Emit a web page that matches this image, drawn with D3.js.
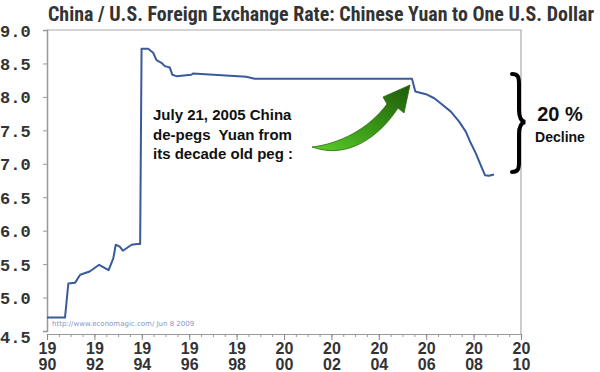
<!DOCTYPE html>
<html>
<head>
<meta charset="utf-8">
<script src="https://cdn.jsdelivr.net/npm/d3@7"></script>
<style>
  body { margin: 0; background: #fff; }
  svg { display: block; }
</style>
</head>
<body>
<svg id="chart" width="600" height="372"></svg>
<script>
// Yuan per US dollar
var years = [1990.0, 1990.76, 1990.9, 1991.18, 1991.4, 1991.8, 1992.2, 1992.6, 1992.8, 1992.9,
  1993.07, 1993.2, 1993.57, 1993.8, 1993.93, 1993.99, 1994.27, 1994.48, 1994.62, 1994.83,
  1994.97, 1995.18, 1995.29, 1995.46, 1996.09, 1996.16, 1998.41, 1998.76, 2005.4, 2005.54,
  2005.99, 2006.34, 2006.62, 2007.04, 2007.39, 2007.67, 2007.88, 2008.09, 2008.3, 2008.48,
  2008.65, 2008.86];
var rates = [4.70, 4.70, 5.21, 5.22, 5.34, 5.39, 5.49, 5.41, 5.59, 5.79,
  5.76, 5.70, 5.79, 5.80, 5.80, 8.72, 8.72, 8.66, 8.55, 8.51,
  8.46, 8.44, 8.33, 8.31, 8.33, 8.35, 8.30, 8.27, 8.27, 8.08,
  8.04, 7.98, 7.90, 7.78, 7.63, 7.48, 7.31, 7.16, 6.98, 6.83,
  6.82, 6.84];

var yTicks = [4.5, 5.0, 5.5, 6.0, 6.5, 7.0, 7.5, 8.0, 8.5, 9.0];
var xTicks = [1990, 1992, 1994, 1996, 1998, 2000, 2002, 2004, 2006, 2008, 2010];
var noteLines = ["July 21, 2005 China", "de-pegs  Yuan from", "its decade old peg :"];

var svg = d3.select("#chart");
// (window.top is read-only, so no plain "top" here)
var plotL = 47, plotR = 521, plotT = 30, plotB = 331;

var x = d3.scaleLinear().domain([1990, 2010]).range([plotL, plotR]);
var y = d3.scaleLinear().domain([4.5, 9.0]).range([plotB, plotT]);

///////////////////////////////////////////////////////////////////////////////
// Title

svg.append("text")
  .attr("x", 48).attr("y", 21)
  .attr("textLength", 546).attr("lengthAdjust", "spacingAndGlyphs")
  .style("font-family", "'Liberation Sans Narrow', 'Arial Narrow', 'Roboto Condensed', sans-serif")
  .style("font-weight", "bold")
  .style("font-size", "20px")
  .style("fill", "#333")
  .text("China / U.S. Foreign Exchange Rate: Chinese Yuan to One U.S. Dollar");

///////////////////////////////////////////////////////////////////////////////
// Frame and axes

svg.append("path")
  .attr("d", "M" + plotL + "," + plotT + "H" + plotR + "V" + (plotB + 3))
  .style("fill", "none").style("stroke", "#aaa").style("stroke-width", 1.2);

var yAxis = svg.append("g")
  .attr("transform", "translate(" + plotL + ",0)")
  .call(d3.axisLeft(y).tickValues(yTicks).tickSize(4).tickFormat(""));
yAxis.select(".domain").attr("stroke", "#999").attr("stroke-width", 1.5);
yAxis.selectAll(".tick line").attr("stroke", "#999");

yAxis.selectAll(".tick").append("text")
  .attr("x", -47).attr("dy", function(d) { return d === 4.5 ? 11 : 6; })
  .style("font-family", "'Liberation Mono', 'Courier New', monospace")
  .style("font-weight", "bold")
  .style("font-size", "17px")
  .style("fill", "#333")
  .attr("text-anchor", "start")
  .text(function(d) { return d3.format(".1f")(d); });

var xAxisY = plotB + 3;
var minor = d3.range(1990, 2010.01, 0.5);
var xMinor = svg.append("g")
  .attr("transform", "translate(0," + xAxisY + ")")
  .call(d3.axisBottom(x).tickValues(minor).tickSize(3).tickFormat(""));
xMinor.selectAll(".tick line").attr("stroke", "#999");
xMinor.select(".domain").attr("stroke", "#999").attr("stroke-width", 1.2);

var xAxis = svg.append("g")
  .attr("transform", "translate(0," + xAxisY + ")")
  .call(d3.axisBottom(x).tickValues(xTicks).tickSize(6).tickFormat(""));
xAxis.select(".domain").remove();
xAxis.selectAll(".tick line").attr("stroke", "#888");

// two-line year labels: century on top, year below
xAxis.selectAll(".tick").append("text")
  .attr("text-anchor", "middle").attr("y", 20)
  .style("font-family", "'Liberation Sans Narrow', 'Arial Narrow', sans-serif")
  .style("font-weight", "bold")
  .style("font-size", "16px")
  .style("fill", "#333")
  .text(function(d) { return String(d).slice(0, 2); });
xAxis.selectAll(".tick").append("text")
  .attr("text-anchor", "middle").attr("y", 36)
  .style("font-family", "'Liberation Sans Narrow', 'Arial Narrow', sans-serif")
  .style("font-weight", "bold")
  .style("font-size", "16px")
  .style("fill", "#333")
  .text(function(d) { return String(d).slice(2); });

// source stamp
svg.append("text")
  .attr("x", 52).attr("y", 326)
  .style("font-family", "'DejaVu Sans', sans-serif")
  .style("font-size", "7px")
  .style("fill", "#8896c0")
  .text("http://www.economagic.com/   Jun 8 2009");

///////////////////////////////////////////////////////////////////////////////
// Rate line

var line = d3.line()
  .x(function(d, i) { return x(years[i]); })
  .y(function(d) { return y(d); });

svg.append("path")
  .datum(rates)
  .attr("d", line)
  .style("fill", "none")
  .style("stroke", "#3a5a9c")
  .style("stroke-width", 2)
  .style("stroke-linejoin", "round");

///////////////////////////////////////////////////////////////////////////////
// Annotations

var note = svg.append("text")
  .style("font-family", "'Liberation Sans', Arial, sans-serif")
  .style("font-weight", "bold")
  .style("font-size", "15px")
  .style("white-space", "pre")
  .style("fill", "#111");
note.selectAll("tspan").data(noteLines).enter().append("tspan")
  .attr("x", 153)
  .attr("y", function(d, i) { return 120 + i * 19.5; })
  .text(function(d) { return d; });

var defs = svg.append("defs");
var grad = defs.append("linearGradient")
  .attr("id", "arrowGrad")
  .attr("x1", "0").attr("y1", "1").attr("x2", "1").attr("y2", "0");
grad.append("stop").attr("offset", "0%").attr("stop-color", "#5ccf28");
grad.append("stop").attr("offset", "45%").attr("stop-color", "#3a9a18");
grad.append("stop").attr("offset", "100%").attr("stop-color", "#1f5a0a");

svg.append("path")
  .attr("d", "M312,147 C338,144 368,130 387,104 L383,97 L410,85 L404,113 L398,108 C380,136 348,160 312,147 Z")
  .style("fill", "url(#arrowGrad)")
  .style("stroke", "#2c6a10")
  .style("stroke-width", 0.8);

// brace
svg.append("path")
  .attr("d", "M512,74 C518,74 519,77 519,84 L519,110 C519,117 521,121 525,122 C521,123 519,127 519,134 L519,162 C519,169 518,172 512,172")
  .style("fill", "none")
  .style("stroke", "#000")
  .style("stroke-width", 4)
  .style("stroke-linecap", "round");

svg.append("text")
  .attr("x", 560).attr("y", 121)
  .attr("text-anchor", "middle")
  .style("font-family", "'Liberation Sans', Arial, sans-serif")
  .style("font-weight", "bold")
  .style("font-size", "20px")
  .style("fill", "#111")
  .text("20 %");

svg.append("text")
  .attr("x", 560).attr("y", 142)
  .attr("text-anchor", "middle")
  .style("font-family", "'Liberation Sans', Arial, sans-serif")
  .style("font-weight", "bold")
  .style("font-size", "14px")
  .style("fill", "#111")
  .text("Decline");
</script>
</body>
</html>
